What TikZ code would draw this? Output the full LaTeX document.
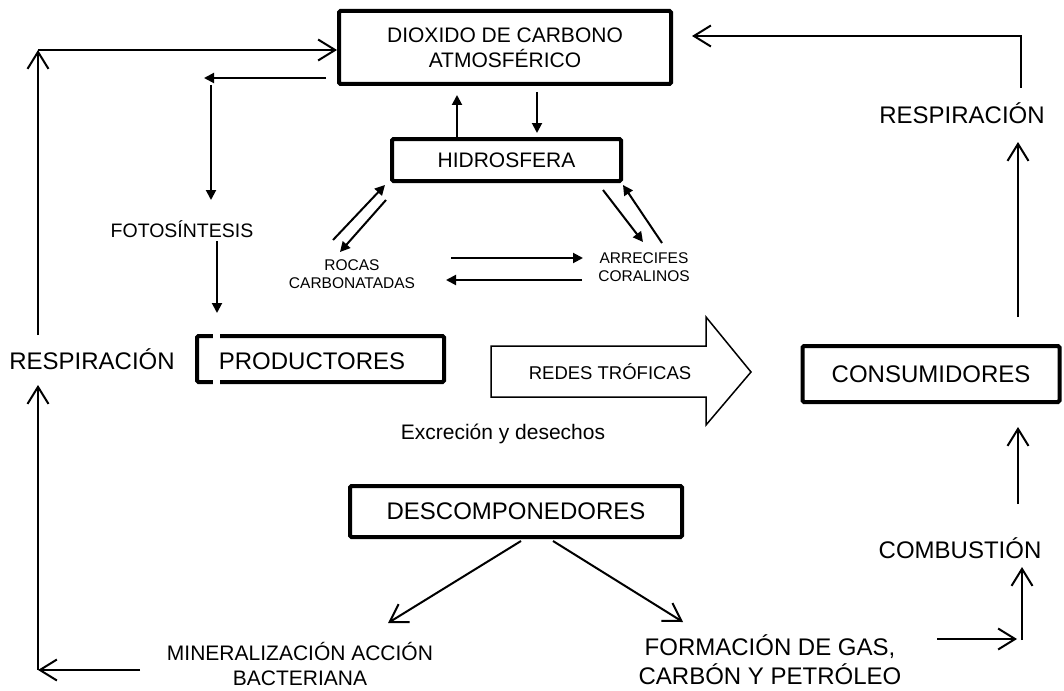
\documentclass[tikz,border=0pt]{standalone}
\usepackage{fontspec}
\setmainfont{Liberation Sans}
\usetikzlibrary{arrows.meta}
\begin{document}
\begin{tikzpicture}[x=1pt,y=-1pt,
  box/.style={draw, line width=4pt, inner sep=0pt, rounded corners=1.5pt, align=center},
  barb/.style={line width=2pt, -{Straight Barb[length=17pt,width=21pt,line width=2pt]}},
  small/.style={line width=2pt, -{Triangle[length=10pt,width=10pt]}},
  bigtxt/.style={font=\fontsize{24}{28}\selectfont, inner sep=0pt, align=center},
  midtxt/.style={font=\fontsize{21}{25}\selectfont, inner sep=0pt, align=center},
  smalltxt/.style={font=\fontsize{15.5}{18.5}\selectfont, inner sep=0pt, align=center}]
\fill[white] (0,0) rectangle (1064,690);
\useasboundingbox (0,0) rectangle (1064,690);

% boxes
\node[box, midtxt, minimum width=332pt, minimum height=73pt] (dioxido) at (505,47.5) {DIOXIDO DE CARBONO\\ATMOSFÉRICO};
\node[box, midtxt, minimum width=229pt, minimum height=42pt] (hidro) at (506.5,160) {HIDROSFERA};
\node[box, minimum width=247pt, minimum height=46pt] (prod) at (320.5,359) {};
\node[bigtxt] (prodtxt) at (312,361) {PRODUCTORES};
\fill[white] (213,329) rectangle (220,389);
\node[box, bigtxt, minimum width=257pt, minimum height=56pt] (cons) at (931,374) {CONSUMIDORES};
\node[box, bigtxt, minimum width=332pt, minimum height=51pt] (desc) at (516,511.5) {DESCOMPONEDORES};

% labels
\node[bigtxt] (respR) at (962,113) {RESPIRACIÓN};
\node[bigtxt] (respL) at (92,359) {RESPIRACIÓN};
\node[bigtxt] (comb) at (960,548) {COMBUSTIÓN};
\node[font=\fontsize{19.5}{23}\selectfont, inner sep=0pt] (foto) at (182,229) {FOTOSÍNTESIS};
\node[smalltxt] (rocas) at (352,274) {ROCAS\\CARBONATADAS};
\node[smalltxt] (arrec) at (644,267) {ARRECIFES\\CORALINOS};
\node[midtxt] (excr) at (503,434) {Excreción y desechos};
\node[midtxt, font=\fontsize{21}{25}\selectfont] (mineral) at (300,664) {MINERALIZACIÓN ACCIÓN\\BACTERIANA};
\node[bigtxt, font=\fontsize{24}{29}\selectfont] (formac) at (770,660) {FORMACIÓN DE GAS,\\CARBÓN Y PETRÓLEO};

% block arrow
\draw[line width=1.5pt, line join=miter] (491,346) -- (706,346) -- (706,317) -- (751,372) -- (706,425) -- (706,397) -- (491,397) -- cycle;
\node[font=\fontsize{18.5}{22}\selectfont, inner sep=0pt] (redes) at (610,372) {REDES TRÓFICAS};

% coordinates
\coordinate (lTop) at (38,50);
\coordinate (lMidTop) at (38,335);
\coordinate (lMidBot) at (38,385);
\coordinate (lBot) at (38,670);
\coordinate (minE) at (140,670);
\coordinate (rTop) at (1021,36);
\coordinate (rTopB) at (1021,88);
\coordinate (dioxR) at (692,36);
\coordinate (dioxL) at (337,50);
\coordinate (fa1) at (326,78);
\coordinate (fa2) at (204,78);
\coordinate (fb1) at (211,85);
\coordinate (fb2) at (211,200);
\coordinate (fc1) at (217,241);
\coordinate (fc2) at (217,313);
\coordinate (h1) at (457,137);
\coordinate (h2) at (457,95);
\coordinate (h3) at (537,92);
\coordinate (h4) at (537,133);
\coordinate (d1a) at (333,240);
\coordinate (d1b) at (385,185);
\coordinate (d2a) at (386,200);
\coordinate (d2b) at (340,252);
\coordinate (d3a) at (603,190);
\coordinate (d3b) at (643,242);
\coordinate (d4a) at (662,243);
\coordinate (d4b) at (623,185);
\coordinate (ra1) at (451,258);
\coordinate (ra2) at (583,258);
\coordinate (rb1) at (582,280);
\coordinate (rb2) at (446,280);
\coordinate (c1) at (1018,317);
\coordinate (c2) at (1018,142);
\coordinate (c3) at (1018,504);
\coordinate (c4) at (1018,427);
\coordinate (g1) at (937,639);
\coordinate (g2) at (1017,639);
\coordinate (g3) at (1022,640);
\coordinate (g4) at (1022,567);
\coordinate (ds1) at (521,541);
\coordinate (ds2) at (388,623);
\coordinate (ds3) at (553,541);
\coordinate (ds4) at (683,622);

% connectors
\draw[barb] (lMidTop) -- (lTop);
\draw[barb] (lTop) -- (dioxL);
\draw[barb] (minE) -- (lBot);
\draw[barb] (lBot) -- (lMidBot);
\draw[barb] (rTopB) -- (rTop) -- (dioxR);
\draw[barb] (c1) -- (c2);
\draw[barb] (c3) -- (c4);
\draw[barb] (g1) -- (g2);
\draw[barb] (g3) -- (g4);
\draw[barb] (ds1) -- (ds2);
\draw[barb] (ds3) -- (ds4);

\draw[small] (fa1) -- (fa2);
\draw[small] (fb1) -- (fb2);
\draw[small] (fc1) -- (fc2);
\draw[small] (h1) -- (h2);
\draw[small] (h3) -- (h4);
\draw[small] (d1a) -- (d1b);
\draw[small] (d2a) -- (d2b);
\draw[small] (d3a) -- (d3b);
\draw[small] (d4a) -- (d4b);
\draw[small] (ra1) -- (ra2);
\draw[small] (rb1) -- (rb2);
\end{tikzpicture}
\end{document}
